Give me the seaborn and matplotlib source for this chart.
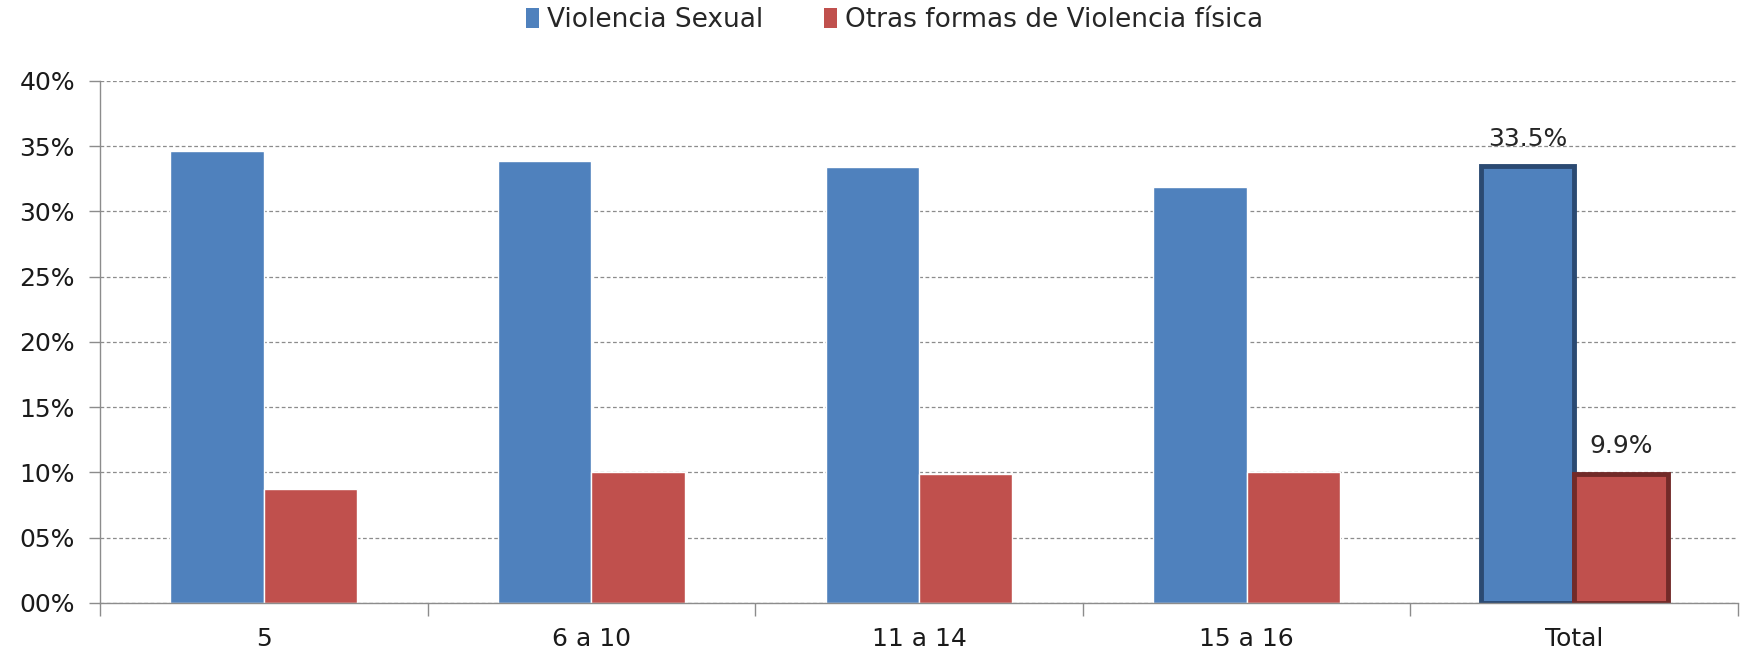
import pandas as pd
import seaborn as sns
import matplotlib.pyplot as plt
from matplotlib.ticker import FixedLocator
from matplotlib.patches import Patch

# Data
groups = ['5', '6 a 10', '11 a 14', '15 a 16', 'Total']
sexual = [0.346, 0.339, 0.334, 0.319, 0.335]
fisica = [0.087, 0.100, 0.099, 0.100, 0.099]
series_names = ['Violencia Sexual', 'Otras formas de Violencia física']
colors = ['#4F81BD', '#C0504D']
y_ticks = [0, 0.05, 0.10, 0.15, 0.20, 0.25, 0.30, 0.35, 0.40]
y_labels = ['00%', '05%', '10%', '15%', '20%', '25%', '30%', '35%', '40%']

df = pd.DataFrame({
    'grupo': groups * 2,
    'valor': sexual + fisica,
    'serie': [series_names[0]] * len(groups) + [series_names[1]] * len(groups),
})

sns.set_style('white')
plt.rcParams['font.family'] = ['DejaVu Sans']

fig = plt.figure(figsize=(17.44, 6.52), dpi=100)
ax = fig.add_axes([0.0573, 0.0752, 0.9393, 0.8006])

sns.barplot(data=df, x='grupo', y='valor', hue='serie', palette=colors,
            width=0.57, errorbar=None, legend=False, ax=ax, saturation=1)

# Total bars get the darker bevel look
for cont, edge in zip(ax.containers, ['#2b4a72', '#722a28']):
    bar = cont.patches[-1]
    bar.set_edgecolor(edge)
    bar.set_linewidth(3.5)

# Value labels only on the Total group
for cont, vals in zip(ax.containers, [sexual, fisica]):
    labels = [''] * (len(vals) - 1) + ['%.1f%%' % (vals[-1] * 100)]
    ax.bar_label(cont, labels=labels, padding=11, fontsize=18, color='#262626')

ax.set_ylim(0, 0.40)
ax.set_xlim(-0.5, len(groups) - 0.5)
ax.set_yticks(y_ticks)
ax.set_yticklabels(y_labels)
ax.yaxis.grid(True, linestyle=(0, (3, 2)), color='#8c8c8c', linewidth=0.9)
ax.set_axisbelow(True)

# category boundaries as tick marks on the x axis
ax.xaxis.set_minor_locator(FixedLocator([i - 0.5 for i in range(len(groups) + 1)]))
ax.tick_params(axis='x', which='major', length=0, pad=17, labelsize=18, labelcolor='#1a1a1a')
ax.tick_params(axis='x', which='minor', length=9, width=1, color='#8c8c8c', direction='out', bottom=True)
ax.tick_params(axis='y', length=8, width=1, color='#8c8c8c', direction='out', left=True,
               labelsize=18, labelcolor='#1a1a1a', pad=10)

ax.set_xlabel('')
ax.set_ylabel('')
for side in ['top', 'right']:
    ax.spines[side].set_visible(False)
for side in ['left', 'bottom']:
    ax.spines[side].set_color('#8c8c8c')
    ax.spines[side].set_linewidth(1)

handles = [Patch(facecolor=c, edgecolor='none') for c in colors]
fig.legend(handles, series_names, loc='center', bbox_to_anchor=(0.513, 0.969), ncol=2,
           frameon=False, handlelength=0.5, handleheight=0.8, handletextpad=0.3,
           columnspacing=2.3, fontsize=19)

fig.savefig('out.png', dpi=100)
